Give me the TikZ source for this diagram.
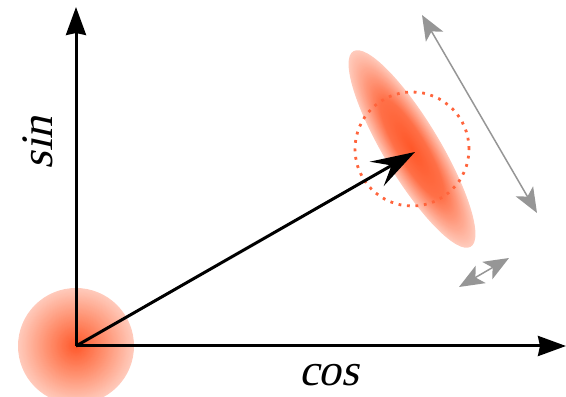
\documentclass[tikz,border=0pt]{standalone}
\usepackage{fontspec}
\setmainfont{Liberation Serif}
\newfontfamily\labfont[FakeSlant=0.22]{Liberation Serif}
\usetikzlibrary{arrows.meta}
\definecolor{c0}{RGB}{255,88,42}
\definecolor{c1}{RGB}{255,145,112}
\definecolor{c1e}{RGB}{255,112,72}
\definecolor{c2}{RGB}{255,203,188}
\definecolor{dotc}{RGB}{255,100,60}
\definecolor{arrg}{RGB}{150,150,150}
\newcommand{\gradblob}[3]{%
  \foreach \k in {0,...,69}{%
    \pgfmathsetmacro\rr{1-\k/70}%
    \pgfmathtruncatemacro\pa{min(100,max(0,(\rr-0.5)/0.5*100))}%
    \pgfmathtruncatemacro\pb{min(100,max(0,\rr/0.5*100))}%
    \colorlet{tmpc}{#3!\pb!c0}%
    \fill[c2!\pa!tmpc] (0,0) ellipse ({#1*\rr} and {#2*\rr});
  }}
\begin{document}
\begin{tikzpicture}[x=1pt,y=1pt,
  axis/.style={line width=3pt,-{Stealth[length=28pt,width=20pt,inset=2pt]}},
  vec/.style={line width=3pt,-{Stealth[length=44pt,width=28pt,inset=17pt]}},
  grayarr/.style={arrg,line width=1.5pt,{Stealth[length=25pt,width=20pt,inset=6pt]}-{Stealth[length=25pt,width=20pt,inset=6pt]}},
  lab/.style={font=\labfont\fontsize{45}{45}\selectfont,inner sep=0pt,anchor=base}]
\useasboundingbox (0,0) rectangle (566,397);
\coordinate (O) at (76,51);
\coordinate (E) at (412,248);
\coordinate (T) at (415,245);
\coordinate (Ytop) at (76,390);
\coordinate (Xend) at (566,51);
\coordinate (G1) at (422,382);
\coordinate (G2) at (537,184);
\coordinate (H1) at (459,110);
\coordinate (H2) at (509,139);
\begin{scope}[shift={(O)}]
\gradblob{58}{58}{c1}
\end{scope}
\begin{scope}[shift={(E)},rotate=-59]
\gradblob{114}{28}{c1e}
\end{scope}
\draw[dotc,line width=2.8pt,dash pattern=on 2.8pt off 5.7pt] (E) circle (57);
\draw[axis] (O) -- (Ytop);
\draw[axis] (O) -- (Xend);
\draw[vec] (O) -- (T);
\draw[grayarr] (G1) -- (G2);
\draw[grayarr] (H1) -- (H2);
\node[lab,rotate=90] (sin) at (52,254) {sin};
\node[lab] (cos) at (329,11) {cos};
\end{tikzpicture}
\end{document}
